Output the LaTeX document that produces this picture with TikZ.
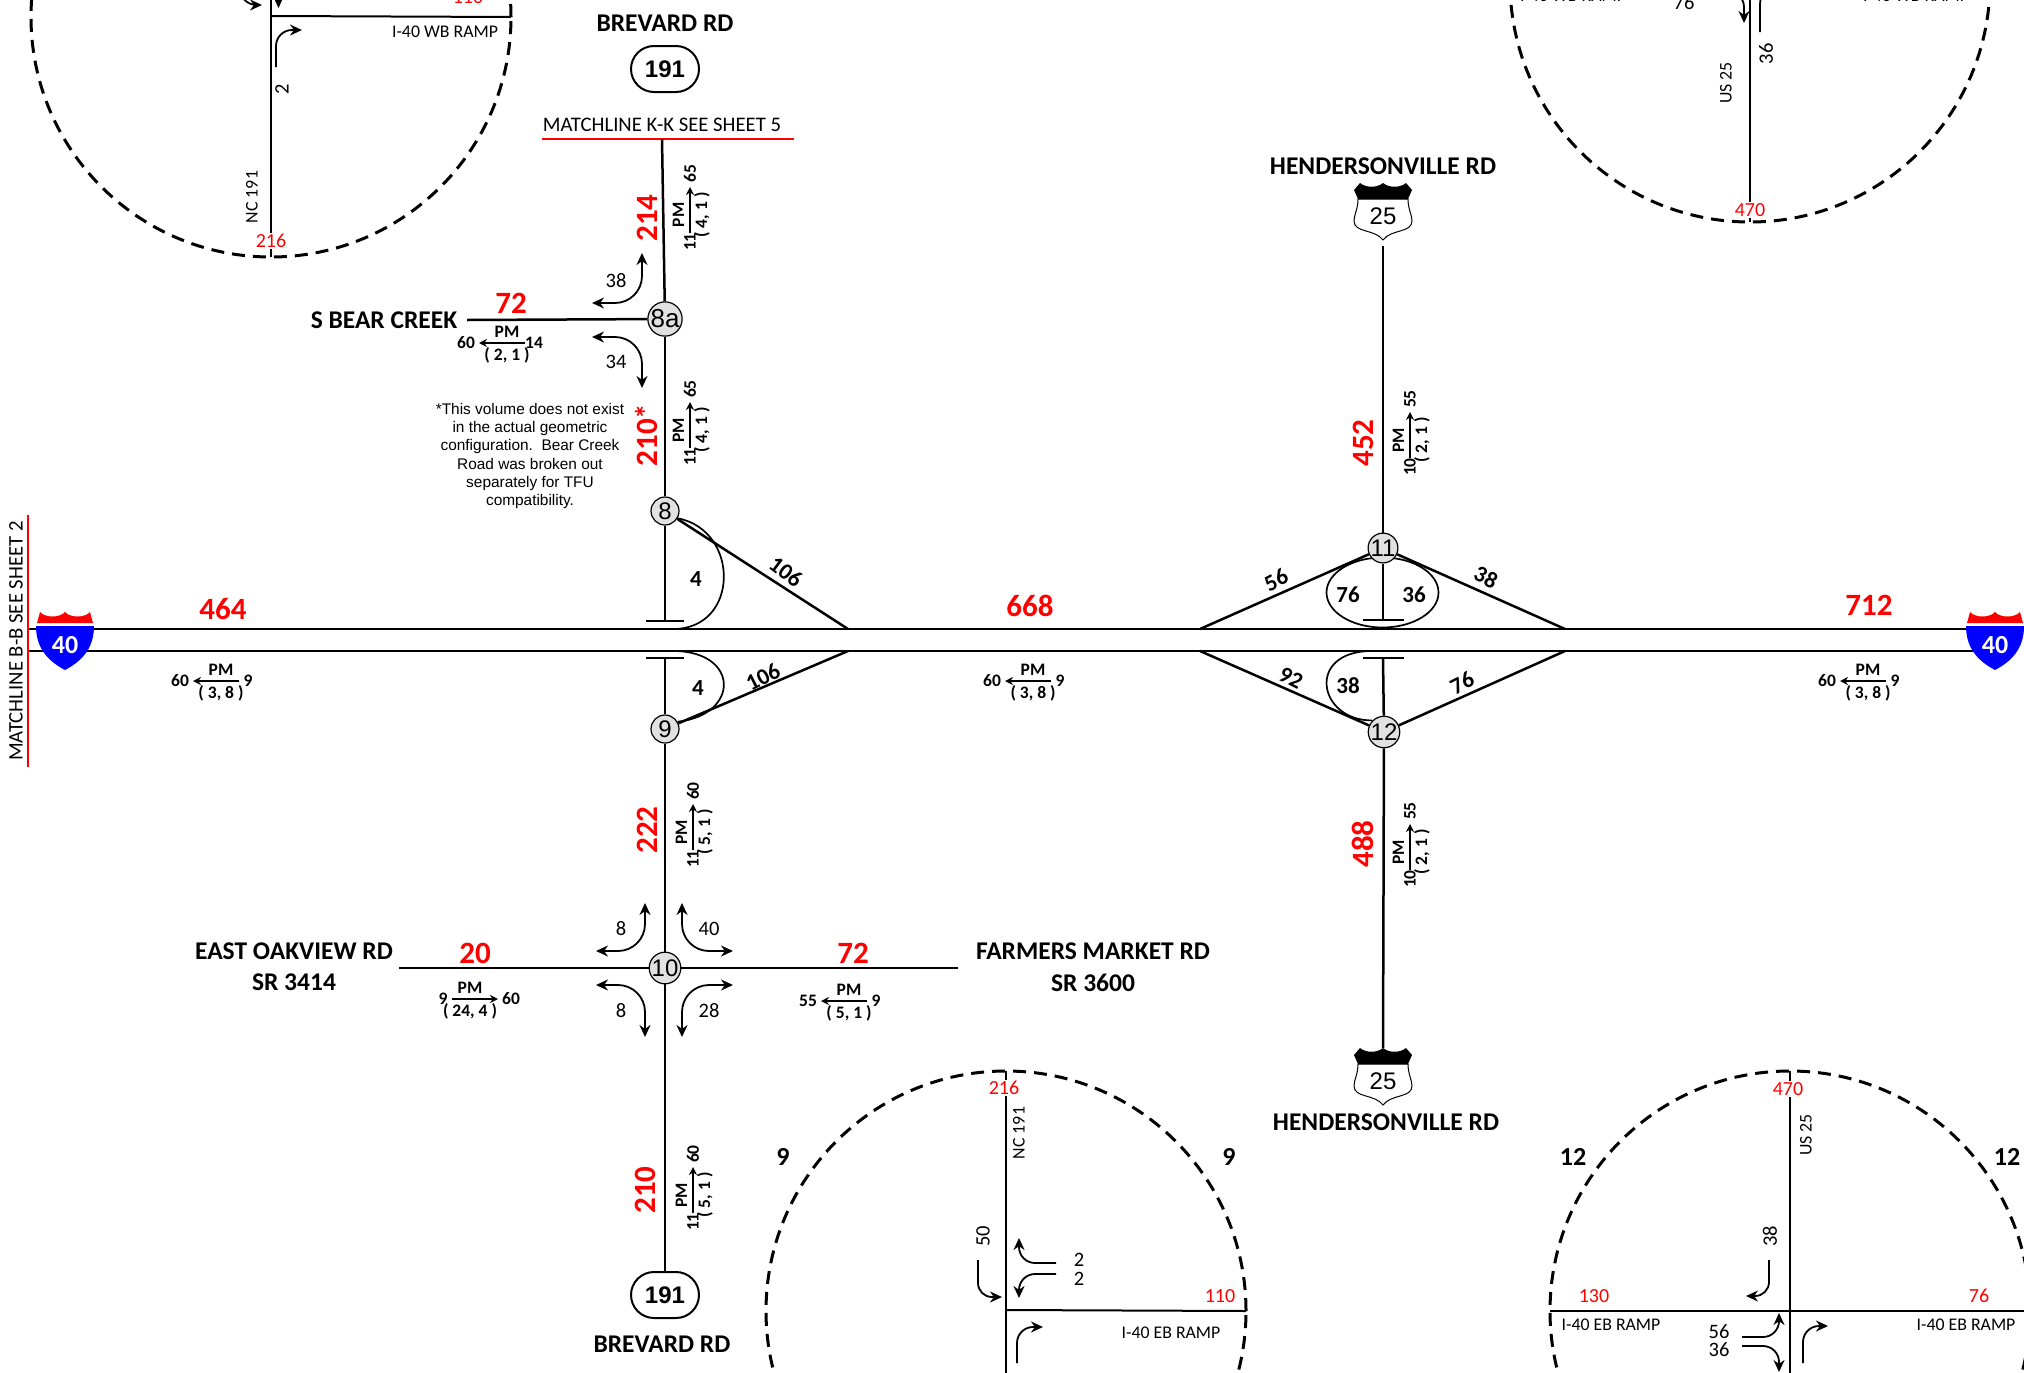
\documentclass[tikz,border=0pt]{standalone}
\usepackage{fontspec}
\setmainfont{Carlito}
\newfontfamily\arialfont{Liberation Sans}
\usepackage{xcolor}
\usetikzlibrary{positioning, arrows.meta, shapes}

\definecolor{shieldblue}{RGB}{0,0,255}
\definecolor{nodegray}{RGB}{225,225,225}

% PM volume group: name, x, y, rotation, direction, tail, head, split
\newcommand{\pmflow}[8]{%
\begin{scope}[shift={(#2,#3)},rotate=#4,transform shape]
\coordinate (#1tail) at ({#5*-18},0);
\coordinate (#1tip) at ({#5*28},0);
\draw[flow] (#1tail) -- (#1tip);
\node[pmtext] (#1pm) at (0,-11.5) {PM};
\node[pmtext] (#1sp) at (0,12) {#8};
\node[pmtext] (#1t) at ({#5*-27},0) {#6};
\node[pmtext] (#1h) at ({#5*41},0) {#7};
\end{scope}}

% interstate shield: name, x, top y
\newcommand{\interstate}[3]{%
\begin{scope}[shift={(#2,#3)}]
\fill[red] (-28,11) -- (-25,0) .. controls (-20,6) and (-5,6) .. (0,0) .. controls (5,6) and (20,6) .. (25,0) -- (28,11) -- cycle;
\fill[shieldblue] (-29,14) -- (29,14) .. controls (29,38) and (15,50) .. (0,58) .. controls (-15,50) and (-29,38) .. (-29,14) -- cycle;
\node[font=\fontsize{26}{28}\selectfont\bfseries, text=white, inner sep=0pt] (#1) at (0,33) {40};
\end{scope}}

% US route shield: name, x, top y
\newcommand{\usroute}[3]{%
\begin{scope}[shift={(#2,#3)}]
\draw[line width=1pt, fill=white] (-25,16) .. controls (-25,26) and (-29,32) .. (-29,38) .. controls (-29,50) and (-8,46) .. (0,57) .. controls (8,46) and (29,50) .. (29,38) .. controls (29,32) and (25,26) .. (25,16) -- cycle;
\fill (-25,16) -- (-29,7) -- (-23,0) .. controls (-17,5) and (-6,5) .. (0,0) .. controls (6,5) and (17,5) .. (23,0) -- (29,7) -- (25,16) -- cycle;
\node[font=\arialfont\fontsize{24}{26}\selectfont, inner sep=0pt] (#1) at (0,33) {25};
\end{scope}}

\begin{document}
\begin{tikzpicture}[
    x=1pt, y=-1pt,
    road/.style={line width=2.5pt},
    thinroad/.style={line width=2pt},
    loopline/.style={line width=1.7pt},
    matchline/.style={red, line width=2pt},
    flow/.style={-{Stealth[length=8pt,width=8pt]}, line width=1.5pt},
    turn/.style={>={Stealth[length=12pt,width=11pt]}, line width=1.8pt},
    inset/.style={circle, draw, dash pattern=on 13pt off 8pt, line width=3pt, minimum size=480pt, inner sep=0pt, outer sep=0pt},
    intersection/.style={circle, draw, fill=nodegray, line width=1.2pt, minimum size=28pt, inner sep=0pt, font=\arialfont\fontsize{24}{26}\selectfont},
    pmtext/.style={inner sep=0pt, font=\fontsize{17.5}{19}\selectfont\bfseries},
    volume/.style={inner sep=0pt, text=red, font=\fontsize{31}{33}\selectfont\bfseries},
    insetvol/.style={inner sep=1pt, fill=white, text=red, font=\fontsize{20}{22}\selectfont},
    roadname/.style={inner sep=0pt, font=\fontsize{25.5}{28}\selectfont\bfseries},
    plain/.style={inner sep=0pt, font=\fontsize{20.5}{22}\selectfont},
    small/.style={inner sep=0pt, font=\fontsize{17.8}{19}\selectfont},
    ramp/.style={inner sep=0pt, font=\fontsize{23}{25}\selectfont\bfseries},
    matchtext/.style={inner sep=0pt, font=\fontsize{20.7}{22}\selectfont},
    capsule/.style={draw, line width=2pt, rounded corners=23pt, minimum width=68pt, minimum height=46pt, inner sep=0pt, fill=white, font=\arialfont\fontsize{24}{26}\selectfont\bfseries}
]
\clip[use as bounding box] (0,0) rectangle (2024,1373);

% insets
\node[inset] (ctl) at (271,17) {};
\node[inset] (ctr) at (1750,-18) {};
\node[inset] (cnine) at (1006,1311) {};
\node[inset] (ctwelve) at (1790,1311) {};

\coordinate (jtl) at (271,16);
\coordinate (jtr) at (1750,-18);
\coordinate (jnine) at (1006,1310);
\coordinate (jtwelve) at (1790,1310);
\coordinate (bnine) at (1006,1400);
\coordinate (btwelve) at (1790,1400);
\coordinate (ttl) at (271,-20);
\draw[thinroad] (ttl) -- (ctl.south);
\draw[thinroad] (jtl) -- (ctl.east);
\draw[thinroad] (jtr) -- (ctr.south);
\draw[thinroad] (cnine.north) -- (bnine);
\draw[thinroad] (jnine) -- (cnine.east);
\draw[thinroad] (ctwelve.north) -- (btwelve);
\draw[thinroad] (ctwelve.west) -- (ctwelve.east);

\node[insetvol] (vtlr) at (468,-3) {110};
\node[insetvol] (vtlb) at (271,241) {216};
\node[insetvol] (vtrb) at (1750,210) {470};
\node[insetvol] (vnt) at (1004,1088) {216};
\node[insetvol] (vnr) at (1220,1296) {110};
\node[insetvol] (vtt) at (1788,1089) {470};
\node[insetvol] (vtl) at (1594,1296) {130};
\node[insetvol] (vtr) at (1979,1296) {76};

\node[small] (rtl) at (445,32) {I-40 WB RAMP};
\node[small] (rtra) at (1573,-4) {I-40 WB RAMP};
\node[small] (rtrb) at (1916,-4) {I-40 WB RAMP};
\node[small] (rn) at (1171,1333) {I-40 EB RAMP};
\node[small] (rta) at (1611,1325) {I-40 EB RAMP};
\node[small] (rtb) at (1966,1325) {I-40 EB RAMP};
\node[small, rotate=90] (ntl) at (252,197) {NC 191};
\node[small, rotate=90] (utr) at (1726,83) {US 25};
\node[small, rotate=90] (nnine) at (1019,1133) {NC 191};
\node[small, rotate=90] (utw) at (1806,1135) {US 25};

\node[plain, rotate=90] (ltla) at (282,89) {2};
\node[plain, rotate=90] (ltra) at (1766,54) {36};
\node[plain] (ltrb) at (1684,3) {76};
\node[plain, rotate=90] (lna) at (983,1236) {50};
\node[plain] (lnb) at (1079,1260) {2};
\node[plain] (lnc) at (1079,1279) {2};
\node[plain, rotate=90] (lta) at (1770,1236) {38};
\node[plain] (ltb) at (1719,1332) {56};
\node[plain] (ltc) at (1719,1350) {36};
\node[ramp, font=\fontsize{26}{28}\selectfont\bfseries] (nla) at (783,1157) {9};
\node[ramp, font=\fontsize{26}{28}\selectfont\bfseries] (nlb) at (1229,1157) {9};
\node[ramp, font=\fontsize{26}{28}\selectfont\bfseries] (tla) at (1573,1157) {12};
\node[ramp, font=\fontsize{26}{28}\selectfont\bfseries] (tlb) at (2007,1157) {12};

% turning movements
\foreach \id/\tips/\ax/\ay/\bx/\by/\rad in {
    tla/->/239/-20/262/5/18, tlb/<-/278.5/8/295/-20/15, tlc/->/276/67/302/30/16,
    tra/<-/1744/23/1725/-8/15, trb/->/1760/32/1780/-12/16,
    nia/->/978/1260/1002/1297/14, nib/<-/1019/1238/1056/1263/16, nic/<-/1019/1298/1056/1274/16, nid/->/1017/1363/1043/1327/16,
    twa/->/1769/1260/1746/1296/14, twb/<-/1779/1313/1742/1337/16, twc/<-/1779/1372/1742/1346/16, twd/->/1803/1363/1828/1326/16,
    bea/<->/642/253/592/303/27, beb/<->/642/388/592/337/27,
    tna/<->/645/903/596/951/27, tnb/<->/682/903/733/951/27, tnc/<->/645/1037/596/985/27, tnd/<->/682/1037/733/985/27
} {
    \coordinate (\id a) at (\ax,\ay);
    \coordinate (\id b) at (\bx,\by);
    \draw[turn, \tips, rounded corners=\rad] (\id a) |- (\id b);
}

% freeway
\coordinate (fwa) at (28,629);
\coordinate (fwb) at (1995,629);
\coordinate (fwc) at (28,651);
\coordinate (fwd) at (1995,651);
\draw[road] (fwa) -- (fwb);
\draw[road] (fwc) -- (fwd);

\coordinate (mba) at (28,515);
\coordinate (mbb) at (28,767);
\draw[matchline] (mba) -- (mbb);
\node[matchtext, rotate=90] (mbt) at (16,641) {MATCHLINE B-B SEE SHEET 2};
\coordinate (mka) at (542,139);
\coordinate (mkb) at (794,139);
\draw[matchline] (mka) -- (mkb);
\node[matchtext] (mkt) at (662,125) {MATCHLINE K-K SEE SHEET 5};

\interstate{ila}{65}{612}
\interstate{ilb}{1995}{612}

% brevard side
\node[intersection, minimum size=32pt, font=\arialfont\fontsize{26}{28}\selectfont] (n8a) at (665,319) {8a};
\node[intersection] (n8) at (665,511) {8};
\node[intersection] (n9) at (665,729) {9};
\node[intersection] (n10) at (665,968) {10};
\node[capsule] (bta) at (665,69) {191};
\node[capsule] (btb) at (665,1295) {191};
\node[roadname, above=37pt of bta.center] (bna) {BREVARD RD};
\node[roadname, below=41pt of btb.center, xshift=-3pt] (bnb) {BREVARD RD};

\coordinate (kroad) at (662,139);
\coordinate (tup) at (665,621);
\coordinate (tlow) at (665,658);
\coordinate (tupa) at (646,621);
\coordinate (tupb) at (684,621);
\coordinate (tlowa) at (646,658);
\coordinate (tlowb) at (684,658);
\coordinate (rupe) at (848,629);
\coordinate (rlowe) at (848,651);
\coordinate (lupe) at (673,629);
\coordinate (llowe) at (673,651);
\coordinate (bear) at (467,320);
\coordinate (oak) at (399,968);
\coordinate (farm) at (958,968);
\draw[road] (kroad) -- (n8a);
\draw[road] (n8a) -- (n8);
\draw[road] (n8) -- (tup);
\draw[loopline] (tupa) -- (tupb);
\draw[loopline] (tlowa) -- (tlowb);
\draw[road] (tlow) -- (n9);
\draw[road] (n9) -- (n10);
\draw[road] (n10) -- (btb);
\draw[road] (bear) -- (n8a);
\draw[road] (oak) -- (n10);
\draw[road] (n10) -- (farm);
\draw[road] (n8) -- (rupe);
\draw[road] (n9) -- (rlowe);
\draw[loopline] (n8.-30) .. controls (740,530) and (740,629) .. (lupe);
\draw[loopline] (llowe) .. controls (740,651) and (740,715) .. (n9.30);

% hendersonville side
\node[draw=none, ellipse, minimum width=112pt, minimum height=70pt, inner sep=0pt] (oval) at (1382.5,592.5) {};
\draw[loopline] (oval.center) ellipse [x radius=56, y radius=35];
\node[intersection] (n11) at (1383,548) {11};
\node[intersection] (n12) at (1384,732) {12};
\usroute{usa}{1383}{183}
\usroute{usb}{1383}{1048}
\node[roadname, above=41pt of usa.center] (hna) {HENDERSONVILLE RD};
\node[roadname, below=33pt of usb.center, xshift=3pt] (hnb) {HENDERSONVILLE RD};

\coordinate (hroad) at (1383,246);
\coordinate (htop) at (1383,1048);
\coordinate (hup) at (1383,620);
\coordinate (hlow) at (1383,658);
\coordinate (hupa) at (1363,620);
\coordinate (hupb) at (1404,620);
\coordinate (hlowa) at (1363,658);
\coordinate (hlowb) at (1404,658);
\coordinate (wup) at (1200,629);
\coordinate (eup) at (1565,629);
\coordinate (wlow) at (1200,651);
\coordinate (elow) at (1565,651);
\coordinate (hloop) at (1372,651);
\draw[road] (hroad) -- (n11);
\draw[road] (n11) -- (hup);
\draw[loopline] (hupa) -- (hupb);
\draw[loopline] (hlowa) -- (hlowb);
\draw[road] (hlow) -- (n12);
\draw[road] (n12) -- (htop);
\draw[road] (wup) -- (n11);
\draw[road] (eup) -- (n11);
\draw[road] (wlow) -- (n12);
\draw[road] (elow) -- (n12);
\draw[loopline] (hloop) .. controls (1305,651) and (1318,721) .. (n12.135);

% volumes
\node[volume] (va) at (223,609) {464};
\node[volume] (vb) at (1030,606) {668};
\node[volume] (vc) at (1869,605) {712};
\node[volume, rotate=90] (vd) at (647,218) {214};
\node[volume, rotate=90] (ve) at (647,435) {210*};
\node[volume] (vf) at (511,303) {72};
\node[volume, rotate=90] (vg) at (1363,443) {452};
\node[volume, rotate=90] (vh) at (1363,844) {488};
\node[volume, rotate=90] (vi) at (647,830) {222};
\node[volume, rotate=90] (vj) at (645,1190) {210};
\node[volume] (vk) at (475,953) {20};
\node[volume] (vl) at (853,953) {72};

\pmflow{pa}{221}{681}{0}{-1}{9}{60}{( 3, 8 )}
\pmflow{pb}{1033}{681}{0}{-1}{9}{60}{( 3, 8 )}
\pmflow{pc}{1868}{681}{0}{-1}{9}{60}{( 3, 8 )}
\pmflow{pd}{507}{343}{0}{-1}{14}{60}{( 2, 1 )}
\pmflow{pe}{690}{215}{90}{1}{11}{65}{( 4, 1 )}
\pmflow{pf}{690}{430}{90}{1}{11}{65}{( 4, 1 )}
\pmflow{pg}{1410}{440}{90}{1}{10}{55}{( 2, 1 )}
\pmflow{ph}{1410}{852}{90}{1}{10}{55}{( 2, 1 )}
\pmflow{pi}{693}{832}{90}{1}{11}{60}{( 5, 1 )}
\pmflow{pj}{693}{1195}{90}{1}{11}{60}{( 5, 1 )}
\pmflow{pk}{470}{999}{0}{1}{9}{60}{( 24, 4 )}
\pmflow{pl}{849}{1001}{0}{-1}{9}{55}{( 5, 1 )}

% ramp labels
\node[ramp, rotate=-37] (ra) at (786,572) {106};
\node[ramp, rotate=27] (rb) at (763,677) {106};
\node[ramp] (rc) at (696,579) {4};
\node[ramp] (rd) at (698,688) {4};
\node[ramp, rotate=27] (re) at (1276,580) {56};
\node[ramp, rotate=-27] (rf) at (1486,577) {38};
\node[ramp, rotate=-27] (rg) at (1291,678) {92};
\node[ramp, rotate=27] (rh) at (1462,683) {76};
\node[ramp] (ri) at (1348,595) {76};
\node[ramp] (rj) at (1414,595) {36};
\node[ramp] (rk) at (1348,686) {38};

\node[plain] (la) at (616,281) {38};
\node[plain] (lb) at (616,362) {34};
\node[plain] (lc) at (621,929) {8};
\node[plain] (ld) at (709,929) {40};
\node[plain] (le) at (621,1011) {8};
\node[plain] (lf) at (709,1011) {28};

% road names
\node[roadname] (sbear) at (384,320) {S BEAR CREEK};
\node[roadname] (oaka) at (294,951) {EAST OAKVIEW RD};
\node[roadname, below=14pt of oaka] (oakb) {SR 3414};
\node[roadname] (farma) at (1093,951) {FARMERS MARKET RD};
\node[roadname, below=14pt of farma] (farmb) {SR 3600};

\node[align=center, inner sep=0pt, font=\arialfont\fontsize{15.4}{18.3}\selectfont] (note) at (530,456) {*This volume does not exist\\in the actual geometric\\configuration.\ \ Bear Creek\\Road was broken out\\separately for TFU\\compatibility.};
\end{tikzpicture}
\end{document}
